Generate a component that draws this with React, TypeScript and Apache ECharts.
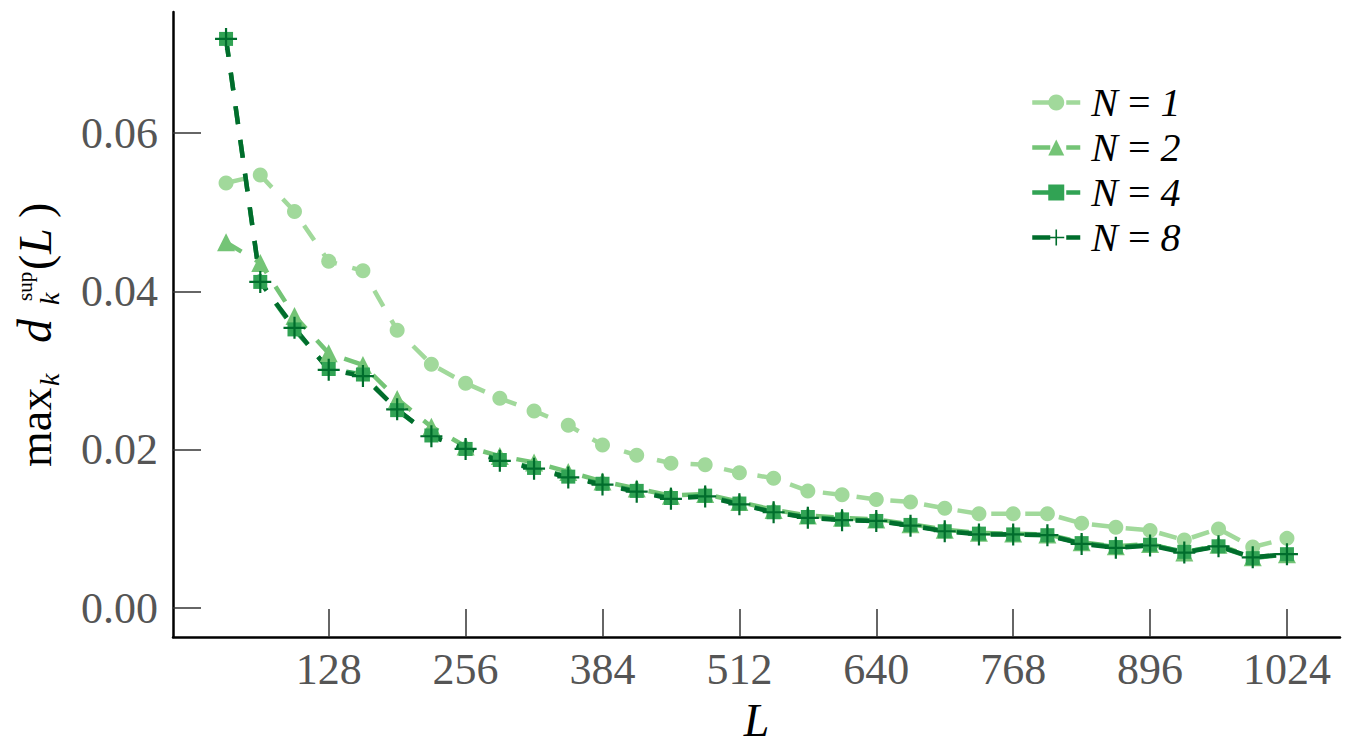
import React, { useEffect, useRef } from "react";
import * as echarts from "echarts";

const L_VALUES = [32, 64, 96, 128, 160, 192, 224, 256, 288, 320, 352, 384, 416, 448, 480, 512, 544, 576, 608, 640, 672, 704, 736, 768, 800, 832, 864, 896, 928, 960, 992, 1024];

const N1 = [0.0537, 0.0547, 0.0501, 0.0438, 0.0426, 0.0351, 0.0308, 0.0284, 0.0265, 0.0249, 0.0231, 0.0206, 0.0193, 0.0183, 0.0181, 0.0171, 0.0164, 0.0148, 0.0143, 0.0137, 0.0134, 0.0126, 0.0119, 0.0119, 0.0119, 0.0107, 0.0102, 0.0098, 0.0086, 0.0100, 0.0077, 0.0088];
const N2 = [0.0462, 0.0436, 0.0369, 0.0322, 0.0307, 0.0264, 0.0229, 0.0204, 0.0192, 0.0184, 0.0172, 0.0160, 0.0151, 0.0142, 0.0144, 0.0134, 0.0124, 0.0117, 0.0114, 0.0112, 0.0106, 0.0099, 0.0095, 0.0094, 0.0093, 0.0083, 0.0078, 0.0081, 0.0070, 0.0080, 0.0064, 0.0068];
const N4 = [0.0719, 0.0412, 0.0352, 0.0302, 0.0295, 0.0250, 0.0218, 0.0201, 0.0187, 0.0177, 0.0166, 0.0157, 0.0148, 0.0139, 0.0142, 0.0132, 0.0121, 0.0115, 0.0112, 0.0110, 0.0105, 0.0097, 0.0094, 0.0093, 0.0092, 0.0082, 0.0077, 0.0080, 0.0071, 0.0078, 0.0063, 0.0068];
const N8 = [0.0719, 0.0412, 0.0354, 0.0301, 0.0293, 0.0251, 0.0217, 0.0201, 0.0186, 0.0176, 0.0165, 0.0156, 0.0147, 0.0138, 0.0141, 0.0131, 0.0121, 0.0114, 0.0111, 0.0110, 0.0104, 0.0097, 0.0093, 0.0093, 0.0092, 0.0081, 0.0076, 0.0079, 0.0070, 0.0078, 0.0064, 0.0068];

const SERIES_NAMES = ["N = 1", "N = 2", "N = 4", "N = 8"];
const X_TICKS = [128, 256, 384, 512, 640, 768, 896, 1024];
const Y_TICKS = [0, 0.02, 0.04, 0.06];

const COLORS = ["#a1d99b", "#74c476", "#31a354", "#006d2c"];
const SERIF = "Liberation Serif";
const PLUS = "path://M9,0h2v9h9v2h-9v9h-2v-9h-9v-2h9z";

export default function App() {
  const ref = useRef<HTMLDivElement>(null);
  useEffect(() => {
    if (!ref.current) return;
    const chart = echarts.init(ref.current, undefined, { renderer: "svg" });
    const values = [N1, N2, N4, N8];
    const symbols = ["circle", "triangle", "rect", PLUS];
    const sizes = [15, 18, 14, 22];
    const series = values.map((v, i) => ({
      type: "line",
      name: SERIES_NAMES[i],
      data: L_VALUES.map((x, j) => [x, v[j]]),
      symbol: symbols[i],
      symbolSize: sizes[i],
      showSymbol: true,
      clip: false,
      lineStyle: { color: COLORS[i], width: 4.5, type: [18, 16] },
      itemStyle: { color: COLORS[i], opacity: 1 },
      emphasis: { disabled: true },
    }));

    const bl = (f: number, base: number) => base - 0.34 * f;
    const txt = (text: string, x: number, f: number, base: number, italic: boolean) => ({
      type: "text",
      x,
      y: bl(f, base),
      style: {
        text,
        fontSize: f,
        fontFamily: SERIF,
        fontStyle: italic ? "italic" : "normal",
        fill: "#000",
        align: "left",
        verticalAlign: "middle",
      },
    });

    chart.setOption({
      animation: false,
      backgroundColor: "#ffffff",
      grid: { left: 173, right: 10, top: 12, bottom: 113, containLabel: false, outerBoundsMode: "none" },
      legend: {
        orient: "vertical",
        left: 1030,
        top: 82,
        padding: 0,
        itemWidth: 48,
        itemHeight: 20,
        itemGap: 4,
        data: SERIES_NAMES,
        lineStyle: { width: 4.5 },
        formatter: (name: string) => {
          const parts = name.split(" = ");
          return `{i|${parts[0]}} {r|=} {i|${parts[1]}}`;
        },
        textStyle: {
          fontFamily: SERIF,
          fontSize: 40,
          color: "#000",
          lineHeight: 41,
          padding: [0, 0, 0, 6],
          rich: {
            i: { fontFamily: SERIF, fontSize: 40, fontStyle: "italic", color: "#000", lineHeight: 41 },
            r: { fontFamily: SERIF, fontSize: 40, color: "#000", lineHeight: 41 },
          },
        },
      },
      xAxis: {
        type: "value",
        min: -17.6,
        max: 1073.6,
        name: "L",
        nameLocation: "middle",
        nameGap: 60,
        nameTextStyle: { fontFamily: SERIF, fontSize: 46, fontStyle: "italic", color: "#000" },
        axisLine: { show: true, onZero: false, lineStyle: { color: "#000", width: 2.5 } },
        axisTick: { show: true, inside: true, length: 28, customValues: X_TICKS, lineStyle: { color: "#333", width: 1.5 } },
        axisLabel: {
          show: true,
          customValues: X_TICKS,
          margin: 10,
          fontFamily: SERIF,
          fontSize: 44,
          color: "#555",
          formatter: (v: number) => String(v),
        },
        splitLine: { show: false },
      },
      yAxis: {
        type: "value",
        min: -0.00366,
        max: 0.0753,
        axisLine: { show: true, onZero: false, lineStyle: { color: "#000", width: 2.5 } },
        axisTick: { show: true, inside: true, length: 28, customValues: Y_TICKS, lineStyle: { color: "#333", width: 1.5 } },
        axisLabel: {
          show: true,
          customValues: Y_TICKS,
          margin: 15,
          fontFamily: SERIF,
          fontSize: 44,
          color: "#555",
          formatter: (v: number) => v.toFixed(2),
        },
        splitLine: { show: false },
      },
      graphic: [
        {
          type: "group",
          x: 51,
          y: 467,
          rotation: Math.PI / 2,
          children: [
            txt("max", 0, 46, 0, false),
            txt("k", 81, 28, 8, true),
            txt("d", 124, 48, 0, true),
            txt("sup", 166, 21, -19, false),
            txt("k", 162, 28, 8, true),
            txt("(", 197, 46, 0, false),
            txt("L", 213, 46, 0, true),
            txt(")", 249, 46, 0, false),
          ],
        },
      ],
      series,
    });
    return () => chart.dispose();
  }, []);
  return <div ref={ref} style={{ position: "fixed", left: 0, top: 0, width: 1350, height: 750 }} />;
}
